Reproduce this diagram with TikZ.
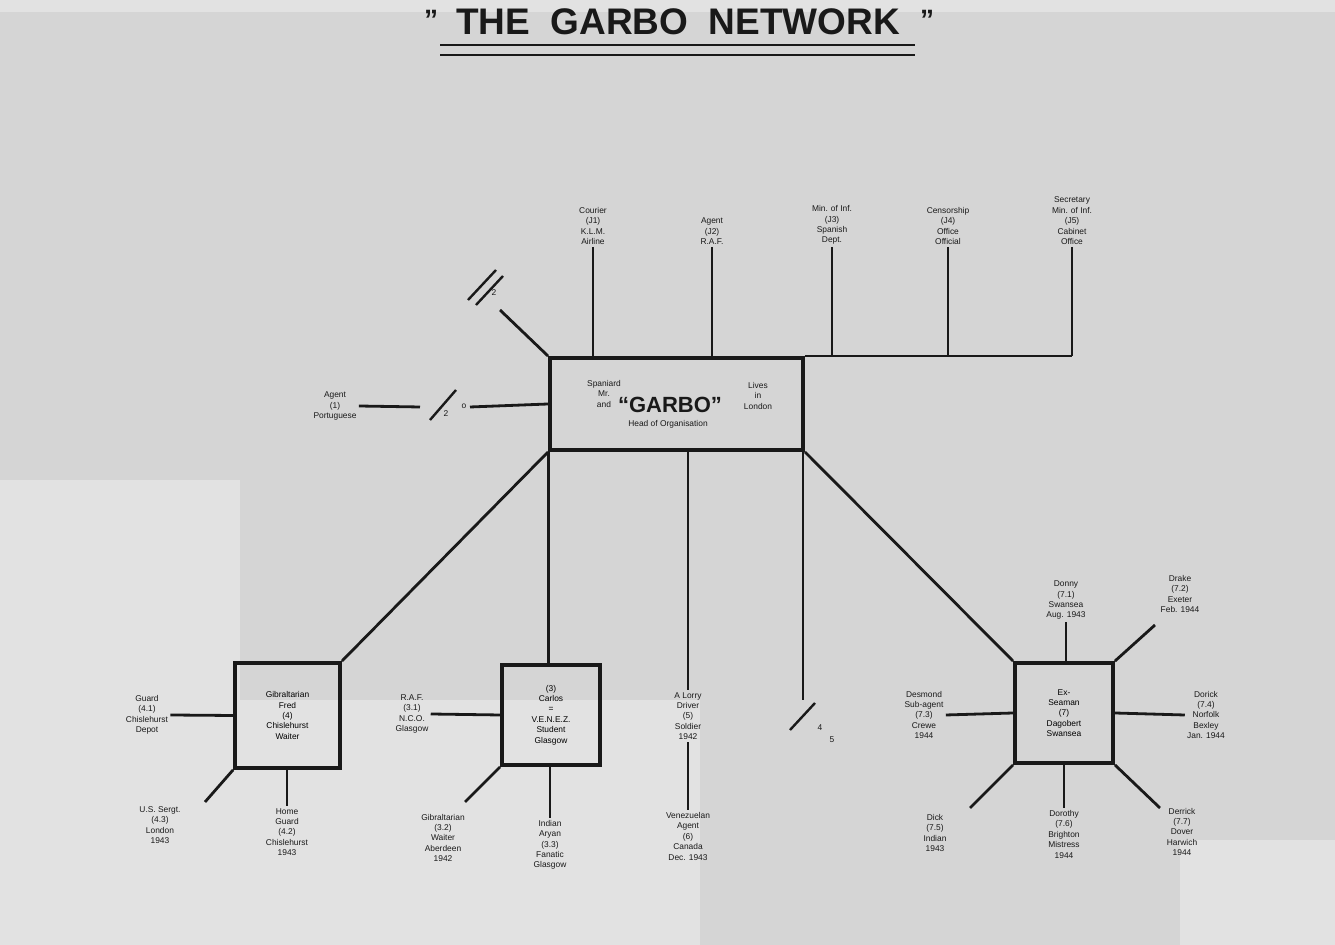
\documentclass[tikz,border=0pt]{standalone}
\usepackage{fontspec}
\setmainfont{Liberation Sans}
\definecolor{bgcol}{RGB}{213,213,213}
\definecolor{bglight}{RGB}{226,226,226}
\definecolor{ink}{RGB}{25,25,25}
\begin{document}
\begin{tikzpicture}[x=0.5pt,y=-0.5pt,
  ink/.style={draw=ink},
  conn/.style={draw=ink,line width=1.4pt},
  bx/.style={draw=ink,line width=1.9pt,inner sep=1pt,align=center,font=\fontsize{4.2}{5.2}\selectfont},
  lbl/.style={align=center,inner sep=1pt,font=\fontsize{4.2}{5.2}\selectfont,text=ink},
  sym/.style={draw=ink,line width=1.2pt}]
\fill[bgcol] (0,0) rectangle (1335,945);
\useasboundingbox (0,0) rectangle (1335,945);
% lighter patches of the paper
\fill[bglight] (0,480) rectangle (240,945);
\fill[bglight] (240,700) rectangle (700,945);
\fill[bglight] (0,0) rectangle (1335,12);
\fill[bglight] (1180,840) rectangle (1335,945);

% title
\node[font=\fontsize{18.5}{22}\selectfont\bfseries,text=ink,inner sep=0pt] (title) at (678,22) {THE\ \ GARBO\ \ NETWORK};
\node[font=\fontsize{14}{14}\selectfont\bfseries,text=ink,inner sep=0pt] (q1) at (431,20) {''};
\node[font=\fontsize{14}{14}\selectfont\bfseries,text=ink,inner sep=0pt] (q2) at (927,20) {''};
\coordinate (u1) at (440,45);
\coordinate (u2) at (915,45);
\draw[ink,line width=1.4pt] (u1) -- (u2);
\draw[ink,line width=0.9pt] ([yshift=-5]u1) -- ([yshift=-5]u2);

% central box
\node[bx,minimum width=126.5pt,minimum height=46pt] (G) at (676.5,404) {};
\node[lbl] (g1) at (604,394) {Spaniard\\Mr.\\and};
\node[font=\fontsize{11}{12}\selectfont\bfseries,text=ink,inner sep=0pt] (g2) at (670,405) {``GARBO''};
\node[lbl] (g3) at (758,396) {Lives\\in\\London};
\node[lbl] (g4) at (668,424) {Head of Organisation};

% top agents
\node[lbl,anchor=south] (t1) at (593,247) {Courier\\(J1)\\K.L.M.\\Airline};
\node[lbl,anchor=south] (t2) at (712,247) {Agent\\(J2)\\R.A.F.};
\node[lbl,anchor=south] (t3) at (832,247) {Min. of Inf.\\(J3)\\Spanish\\Dept.};
\node[lbl,anchor=south] (t4) at (948,247) {Censorship\\(J4)\\Office\\Official};
\node[lbl,anchor=south] (t5) at (1072,247) {Secretary\\Min. of Inf.\\(J5)\\Cabinet\\Office};
\draw[conn] (G.north east) -- (t5.south |- G.north);
\foreach \t in {t1,t2,t3,t4,t5} \draw[conn] (\t.south) -- (\t.south |- G.north);

% top-left branch with crossing mark
\coordinate (d1) at (500,310);
\draw[conn] (G.north west) -- (d1);
\draw[sym] (468,300) -- (496,270);
\draw[sym] (476,305) -- (503,276);
\node[lbl] (d1t) at (494,293) {2};

% left agent
\node[lbl] (a1) at (335,406) {Agent\\(1)\\Portuguese};
\coordinate (l1) at (470,407);
\coordinate (l2) at (420,407);
\draw[conn] (G.west) -- (l1);
\draw[conn] (l2) -- (a1.east);
\draw[sym] (430,420) -- (456,390);
\node[lbl] (a1x) at (464,406) {o};
\node[lbl] (a1y) at (446,414) {2};

% sub-boxes
\node[bx,minimum width=52.5pt,minimum height=52.5pt] (L) at (287.5,715.5) {Gibraltarian\\Fred\\(4)\\Chislehurst\\Waiter};
\node[bx,minimum width=49pt,minimum height=50pt] (M) at (551,715) {(3)\\Carlos\\=\\V.E.N.E.Z.\\Student\\Glasgow};
\node[bx,minimum width=49pt,minimum height=50pt] (R) at (1064,713) {Ex-\\Seaman\\(7)\\Dagobert\\Swansea};

\draw[conn] (G.south west) -- (L.north east);
\draw[conn] (G.south west) -- (M.north west -| G.south west);

% centre column
\node[lbl,anchor=north] (c1) at (688,690) {A Lorry\\Driver\\(5)\\Soldier\\1942};
\node[lbl,anchor=north] (c2) at (688,810) {Venezuelan\\Agent\\(6)\\Canada\\Dec. 1943};
\draw[conn] (c1.north |- G.south) -- (c1.north);
\draw[conn] (c1.south) -- (c2.north);

% right column with crossing mark
\coordinate (rc) at (803,700);
\draw[conn] (rc |- G.south) -- (rc);
\draw[sym] (790,730) -- (815,703);
\node[lbl] (rcx) at (820,728) {4};
\node[lbl] (rcy) at (832,740) {5};

\draw[conn] (G.south east) -- (R.north west);

% agents of box L
\node[lbl] (l4a) at (147,715) {Guard\\(4.1)\\Chislehurst\\Depot};
\node[lbl] (l4b) at (160,825) {U.S. Sergt.\\(4.3)\\London\\1943};
\node[lbl] (l4c) at (287,832) {Home\\Guard\\(4.2)\\Chislehurst\\1943};
\draw[conn] (L.west) -- (l4a.east);
\draw[conn] (L.south west) -- (205,802);
\draw[conn] (L.south -| l4c.north) -- (l4c.north);

% agents of box M
\node[lbl] (m3a) at (412,714) {R.A.F.\\(3.1)\\N.C.O.\\Glasgow};
\node[lbl] (m3b) at (443,838) {Gibraltarian\\(3.2)\\Waiter\\Aberdeen\\1942};
\node[lbl] (m3c) at (550,845) {Indian\\Aryan\\(3.3)\\Fanatic\\Glasgow};
\draw[conn] (M.west) -- (m3a.east);
\draw[conn] (M.south west) -- (465,802);
\draw[conn] (M.south -| m3c.north) -- (m3c.north);

% agents of box R
\node[lbl,anchor=south] (r1) at (1066,622) {Donny\\(7.1)\\Swansea\\Aug. 1943};
\node[lbl] (r2) at (1180,594) {Drake\\(7.2)\\Exeter\\Feb. 1944};
\node[lbl] (r3) at (1206,715) {Dorick\\(7.4)\\Norfolk\\Bexley\\Jan. 1944};
\node[lbl] (r4) at (924,715) {Desmond\\Sub-agent\\(7.3)\\Crewe\\1944};
\node[lbl] (r5) at (935,833) {Dick\\(7.5)\\Indian\\1943};
\node[lbl,anchor=north] (r6) at (1064,808) {Dorothy\\(7.6)\\Brighton\\Mistress\\1944};
\node[lbl] (r7) at (1182,832) {Derrick\\(7.7)\\Dover\\Harwich\\1944};
\draw[conn] (R.north -| r1.south) -- (r1.south);
\draw[conn] (R.north east) -- (1155,625);
\draw[conn] (R.east) -- (r3.west);
\draw[conn] (R.west) -- (r4.east);
\draw[conn] (R.south west) -- (970,808);
\draw[conn] (R.south -| r6.north) -- (r6.north);
\draw[conn] (R.south east) -- (1160,808);
\end{tikzpicture}
\end{document}
